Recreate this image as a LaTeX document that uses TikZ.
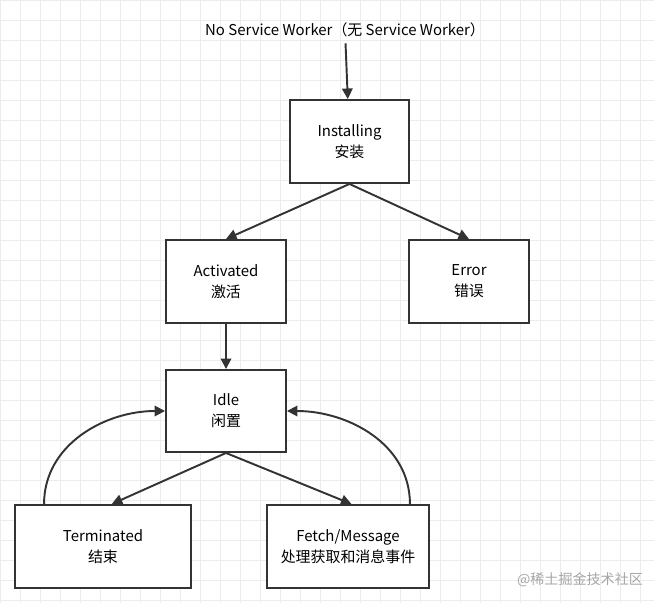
\documentclass[tikz,border=0pt]{standalone}
\usepackage{fontspec}
\setmainfont{Noto Sans CJK SC}
\usetikzlibrary{arrows.meta}
\usetikzlibrary{positioning}
\definecolor{ink}{HTML}{333333}
\tikzset{state/.style={draw=ink,fill=white,line width=1.1pt,minimum height=1.66cm,align=center,font=\fontsize{8.5}{12}\selectfont},
  flow/.style={->,>={Triangle[length=6pt,width=6pt]},draw=ink,line width=1.1pt}}
\begin{document}
\begin{tikzpicture}[x=0.02cm,y=-0.02cm]
\useasboundingbox (0,0) rectangle (654,603);
\draw[gray!15,step=0.4cm] (0,0) grid (654,603);
\node[font=\fontsize{8.5}{12}\selectfont] (title) at (345,30) {No Service Worker（无 Service Worker）};
\node[state,minimum width=2.38cm] (inst) at (349.5,141.5) {Installing\\安装};
\node[state,minimum width=2.4cm] (act) at (226,281.5) {Activated\\激活};
\node[state,minimum width=2.4cm] (err) at (469,281.5) {Error\\错误};
\node[state,minimum width=2.4cm,minimum height=1.64cm] (idle) at (226,411) {Idle\\闲置};
\node[state,minimum width=3.52cm] (term) at (103,546.5) {Terminated\\结束};
\node[state,minimum width=3.24cm] (fetch) at (348,546.5) {Fetch/Message\\处理获取和消息事件};
\node[text=gray!70,font=\fontsize{8}{10}\selectfont] (mark) at (580,580) {@稀土掘金技术社区};
\draw[flow] (title) -- (inst);
\draw[flow] (inst.south) -- (act.north);
\draw[flow] (inst.south) -- (err.north);
\draw[flow] (act) -- (idle);
\draw[flow] (idle.south) -- ([xshift=5pt]term.north);
\draw[flow] (idle.south) -- ([xshift=2pt]fetch.north);
\draw[flow] (term.north west) ++(30,0) coordinate (tl) (tl) to[out=90,in=180] (idle.west);
\draw[flow] (fetch.north east) ++(-20,0) coordinate (fr) (fr) to[out=90,in=0] (idle.east);
\end{tikzpicture}
\end{document}
